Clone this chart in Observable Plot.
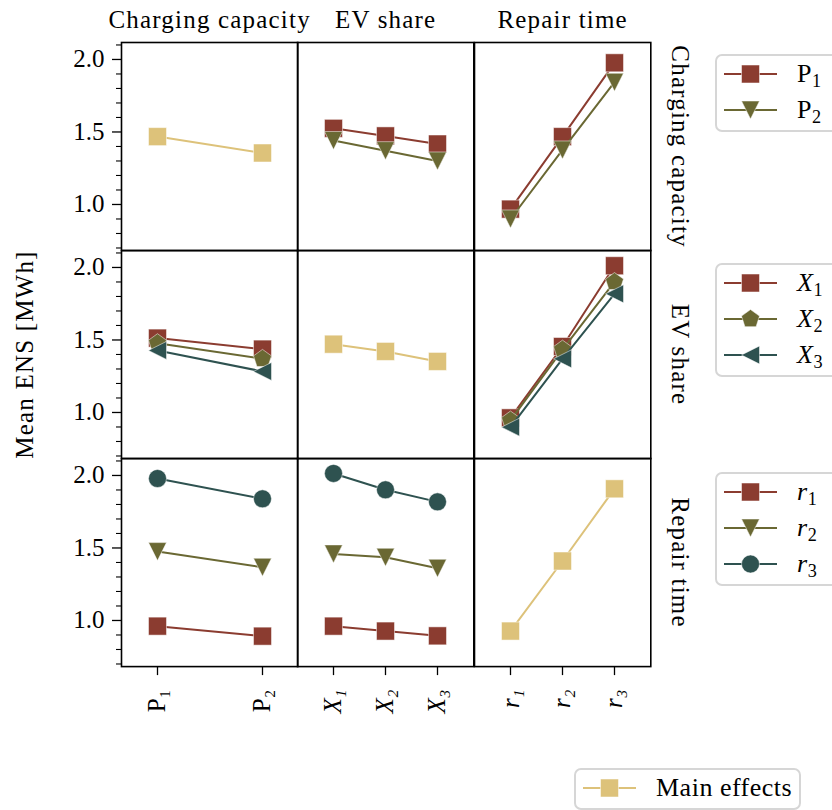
<!DOCTYPE html>
<html>
<head>
<meta charset="utf-8">
<script src="https://cdn.jsdelivr.net/npm/d3@7"></script>
<script src="https://cdn.jsdelivr.net/npm/@observablehq/plot@0.6"></script>
<style>
  html, body { margin: 0; padding: 0; background: #fff; }
  #chart { position: relative; width: 832px; height: 810px; overflow: hidden;
           font-family: "Liberation Serif", "DejaVu Serif", serif; color: #000; }
  #chart svg.cell { position: absolute; overflow: visible; }
  #chart svg.cell g[aria-label="text"] text { letter-spacing: 1.2px; }
  .legend { position: absolute; border: 2px solid #d6d6d6; border-radius: 7px; background: #fff;
            box-sizing: border-box; padding: 0 0 2px 7px; width: 160px; }
  .legend .entry { height: 36px; display: flex; align-items: center; }
  .legend .entry svg { flex: none; overflow: visible; }
  .legend .label { margin-left: 20px; font-size: 26px; line-height: 36px; white-space: nowrap; letter-spacing: 0.5px; }
  .legend sub { font-size: 0.7em; vertical-align: -0.25em; line-height: 0; }
</style>
</head>
<body>
<div id="chart"></div>
<script>
// Factors of the experiment (rows and columns share the same order)
const factors = ["Charging capacity", "EV share", "Repair time"];
const chargingLevels = ["P1", "P2"];
const evLevels = ["X1", "X2", "X3"];
const repairLevels = ["r1", "r2", "r3"];
const chargingTicks = ["P₁", "P₂"];
const evTicks = ["X₁", "X₂", "X₃"];
const repairTicks = ["r₁", "r₂", "r₃"];
const italicLevels = [false, true, true];

// Main effects (diagonal panels), mean ENS in MWh
const mainCharging = [1.468, 1.355];
const mainEv = [1.471, 1.421, 1.352];
const mainRepair = [0.927, 1.410, 1.908];

// Interactions: one row per level of the row factor, across the column factor levels
const chargingAcrossEv = [[1.525, 1.473, 1.417], [1.441, 1.371, 1.300]];
const chargingAcrossRepair = [[0.968, 1.468, 1.977], [0.900, 1.376, 1.843]];
const evAcrossCharging = [[1.513, 1.437], [1.478, 1.370], [1.428, 1.283]];
const evAcrossRepair = [[0.963, 1.455, 2.012], [0.945, 1.434, 1.900], [0.899, 1.370, 1.818]];
const repairAcrossCharging = [[0.961, 0.892], [1.475, 1.367], [1.979, 1.839]];
const repairAcrossEv = [[0.961, 0.927, 0.894], [1.459, 1.436, 1.360], [2.014, 1.901, 1.818]];

const majorTicks = [1.0, 1.5, 2.0];
const minorTicks = [0.7, 0.8, 0.9, 1.1, 1.2, 1.3, 1.4, 1.6, 1.7, 1.8, 1.9, 2.1];

const seriesColors = ["#8b3c30", "#6a6833", "#2e5250"];
const mainColor = "#ddc27a";
const mainLabel = "Main effects";
const yLabel = "Mean ENS [MWh]";

// ---- assembly ------------------------------------------------------------
const levels = [chargingLevels, evLevels, repairLevels];
const tickLabels = [chargingTicks, evTicks, repairTicks];
const mains = [mainCharging, mainEv, mainRepair];
const interactions = [
  [null, chargingAcrossEv, chargingAcrossRepair],
  [evAcrossCharging, null, evAcrossRepair],
  [repairAcrossCharging, repairAcrossEv, null]
];

// Marker shapes (R is the marker half-size)
const half = size => Math.sqrt(size / Math.PI);
const square = {draw(c, s) { const R = half(s); c.moveTo(-R, -R); c.lineTo(R, -R); c.lineTo(R, R); c.lineTo(-R, R); c.closePath(); }};
const circle = {draw(c, s) { const R = half(s); c.moveTo(R, 0); c.arc(0, 0, R, 0, 2 * Math.PI); }};
const triangleDown = {draw(c, s) { const R = half(s); c.moveTo(0, R); c.lineTo(-R, -R); c.lineTo(R, -R); c.closePath(); }};
const triangleLeft = {draw(c, s) { const R = half(s); c.moveTo(-R, 0); c.lineTo(R, -R); c.lineTo(R, R); c.closePath(); }};
const pentagon = {draw(c, s) {
  const R = half(s) * 1.05;
  for (let k = 0; k < 5; ++k) {
    const a = -Math.PI / 2 + k * 2 * Math.PI / 5;
    k ? c.lineTo(R * Math.cos(a), R * Math.sin(a)) : c.moveTo(R * Math.cos(a), R * Math.sin(a));
  }
  c.closePath();
}};
const factorSymbols = [[square, triangleDown], [square, pentagon, triangleLeft], [square, triangleDown, circle]];
const MARKER_R = 9;

// Panel geometry
const X0 = [121, 297.3, 473.5], W = 176.3;
const Y0 = [42, 250.1, 458.2], H = 208.1;
const Y_DOMAIN = [0.682, 2.117];

const chart = document.getElementById("chart");

function cellPlot(i, j) {
  const keys = levels[j];
  const isMain = i === j;
  const seriesNames = isMain ? [mainLabel] : levels[i];
  const colors = isMain ? [mainColor] : seriesColors.slice(0, seriesNames.length);
  const symbols = isMain ? [square] : factorSymbols[i];
  const values = isMain ? [mains[i]] : interactions[i][j];
  const rows = [];
  seriesNames.forEach((s, k) => values[k].forEach((v, l) => rows.push({series: s, level: keys[l], value: v})));

  const mL = j === 0 ? 121 : 4, mR = j === 2 ? 70 : 4;
  const mT = i === 0 ? 42 : 4, mB = i === 2 ? 110 : 4;

  const marks = [];
  seriesNames.forEach((s, k) => {
    const d = rows.filter(r => r.series === s);
    marks.push(Plot.line(d, {x: "level", y: "value", stroke: "series", strokeWidth: 2}));
    marks.push(Plot.dot(d, {x: "level", y: "value", fill: "series", symbol: symbols[k], r: MARKER_R,
                            stroke: "white", strokeWidth: 1, strokeOpacity: 0.5}));
  });
  marks.push(Plot.frame({stroke: "black", strokeWidth: 1.6}));

  if (j === 0) {
    marks.push(Plot.axisY({ticks: majorTicks, tickSize: 9, tickPadding: 8, strokeWidth: 1.3,
                           tickFormat: d => d.toFixed(1), fontSize: 25, label: null}));
    marks.push(Plot.axisY({ticks: minorTicks, tickSize: 5, strokeWidth: 1.1, tickFormat: () => "", label: null}));
  }
  if (i === 2) {
    marks.push(Plot.axisX({ticks: keys, tickSize: 9, tickPadding: 14, tickRotate: -90, strokeWidth: 1.3,
                           tickFormat: k => tickLabels[j][keys.indexOf(k)], fontSize: 25,
                           fontStyle: italicLevels[j] ? "italic" : "normal", label: null}));
  }
  if (i === 0) {
    marks.push(Plot.text([factors[j]], {text: d => d, frameAnchor: "top", textAnchor: "middle",
                                        lineAnchor: "middle", dy: -22, fontSize: 25}));
  }
  if (j === 2) {
    marks.push(Plot.text([factors[i]], {text: d => d, frameAnchor: "right", textAnchor: "middle",
                                        lineAnchor: "middle", rotate: 90, dx: 29, fontSize: 25}));
  }
  if (i === 1 && j === 0) {
    marks.push(Plot.text([yLabel], {text: d => d, frameAnchor: "left", textAnchor: "middle",
                                    lineAnchor: "middle", rotate: -90, dx: -97, fontSize: 25}));
  }

  const svg = Plot.plot({
    width: mL + W + mR,
    height: mT + H + mB,
    marginLeft: mL, marginRight: mR, marginTop: mT, marginBottom: mB,
    x: {type: "point", domain: keys, padding: keys.length === 2 ? 0.336 : 0.668, axis: null, label: null},
    y: {domain: Y_DOMAIN, axis: null, label: null},
    color: {domain: seriesNames, range: colors},
    style: {background: "transparent", fontFamily: "Liberation Serif, DejaVu Serif, serif", fontSize: "25px", overflow: "visible"},
    marks
  });
  svg.classList.add("cell");
  svg.style.left = (X0[j] - mL) + "px";
  svg.style.top = (Y0[i] - mT) + "px";
  chart.appendChild(svg);
}

for (let i = 0; i < 3; ++i) for (let j = 0; j < 3; ++j) cellPlot(i, j);

// ---- legends ----------------------------------------------------------------
function swatch(color, symbol) {
  const p = d3.symbol(symbol, Math.PI * MARKER_R * MARKER_R)();
  return `<svg width="53" height="36"><line x1="0" x2="53" y1="18" y2="18" stroke="${color}" stroke-width="2"/>` +
         `<path d="${p}" transform="translate(26.5,18)" fill="${color}" stroke="white" stroke-opacity="0.5" stroke-width="1"/></svg>`;
}
function levelHtml(key, italic) {
  const letter = key[0], index = key.slice(1);
  return (italic ? `<i>${letter}</i>` : letter) + `<sub>${index}</sub>`;
}
function legend(left, top, entries, width) {
  const div = document.createElement("div");
  div.className = "legend";
  div.style.left = left + "px";
  div.style.top = top + "px";
  if (width) div.style.width = width + "px";
  div.innerHTML = entries.map(e => `<div class="entry">${swatch(e.color, e.symbol)}<span class="label">${e.html}</span></div>`).join("");
  chart.appendChild(div);
}
const legendTops = [54, 262.7, 471.7];
levels.forEach((keys, f) => {
  legend(715, legendTops[f], keys.map((k, n) => ({color: seriesColors[n], symbol: factorSymbols[f][n], html: levelHtml(k, italicLevels[f])})));
});
legend(574, 768.3, [{color: mainColor, symbol: square, html: mainLabel}], 227);
</script>
</body>
</html>
